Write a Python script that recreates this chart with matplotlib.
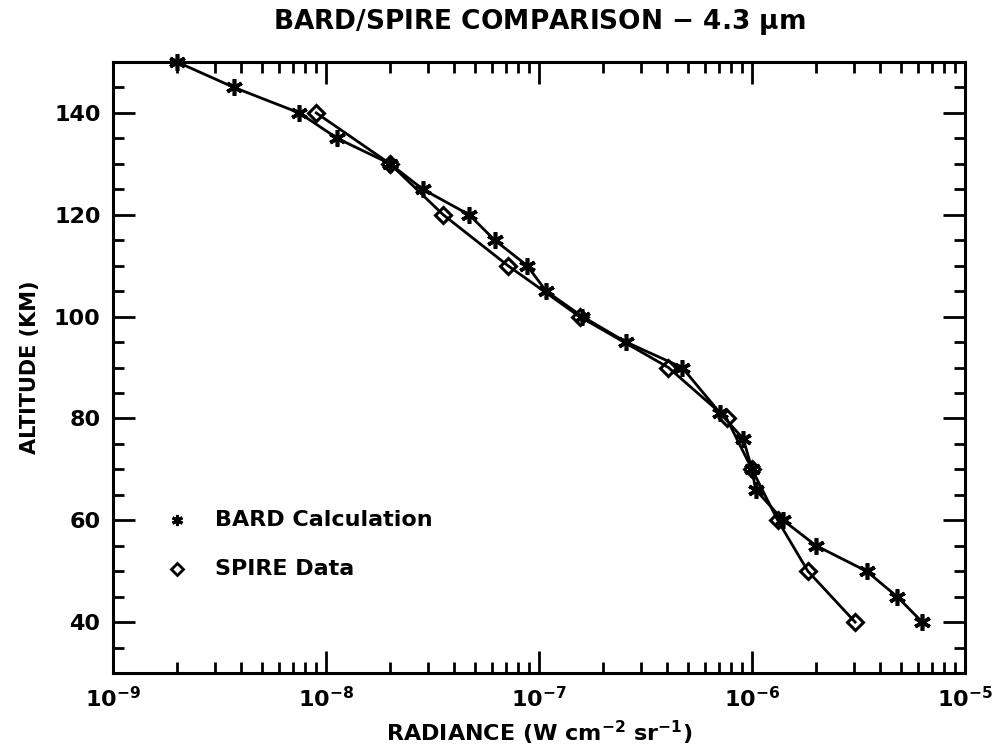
import matplotlib
matplotlib.use("Agg")
import matplotlib.pyplot as plt
from matplotlib.ticker import LogLocator, MultipleLocator, FuncFormatter

bard_alt = [150, 145, 140, 135, 130, 125, 120, 115, 110, 105, 100, 95, 90, 81, 76, 70, 66, 60, 55, 50, 45, 40]
bard_rad = [2.0e-9, 3.7e-9, 7.5e-9, 1.13e-8, 2.0e-8, 2.85e-8, 4.7e-8, 6.2e-8, 8.8e-8, 1.08e-7, 1.6e-7,
            2.56e-7, 4.7e-7, 7.1e-7, 9.1e-7, 1.0e-6, 1.04e-6, 1.4e-6, 2.0e-6, 3.45e-6, 4.8e-6, 6.3e-6]

spire_alt = [140, 130, 120, 110, 100, 90, 80, 70, 60, 50, 40]
spire_rad = [9.0e-9, 2.0e-8, 3.55e-8, 7.15e-8, 1.55e-7, 4.05e-7, 7.6e-7, 1.0e-6, 1.32e-6, 1.83e-6, 3.05e-6]

x_ticks = [1e-9, 1e-8, 1e-7, 1e-6, 1e-5]
x_ticklabels = [r'$\mathbf{10^{-9}}$', r'$\mathbf{10^{-8}}$', r'$\mathbf{10^{-7}}$', r'$\mathbf{10^{-6}}$', r'$\mathbf{10^{-5}}$']
y_ticks = [40, 60, 80, 100, 120, 140]

plt.rcParams['font.family'] = ['DejaVu Sans']
plt.rcParams['font.weight'] = 'bold'
plt.rcParams['mathtext.default'] = 'bf'

fig = plt.figure(figsize=(9.96, 7.52), dpi=100)
ax = fig.add_axes([113/996, 1-673/752, (965-113)/996, (673-62)/752])

star = (6, 2, 0)
ax.plot(bard_rad, bard_alt, color='black', lw=2.0, marker=star, ms=12, mew=2.6,
        clip_on=False, zorder=3)
ax.plot(spire_rad, spire_alt, color='black', lw=2.0, marker='D', ms=8, mew=2.2,
        mfc='none', clip_on=False, zorder=3)

ax.set_xscale('log')
ax.set_xlim(1e-9, 1e-5)
ax.set_ylim(30, 150)
ax.set_xticks(x_ticks)
ax.set_xticklabels(x_ticklabels)
ax.xaxis.set_minor_locator(LogLocator(base=10, subs=range(2, 10), numticks=20))
ax.xaxis.set_minor_formatter(FuncFormatter(lambda v, p: ''))
ax.set_yticks(y_ticks)
ax.yaxis.set_minor_locator(MultipleLocator(5))

ax.tick_params(which='both', direction='in', top=True, right=True, width=2.0, labelsize=16, pad=9)
ax.tick_params(which='major', length=16)
ax.tick_params(which='minor', length=8)
for lab in ax.get_yticklabels():
    lab.set_fontweight('bold')
for s in ax.spines.values():
    s.set_linewidth(2.2)

ax.set_title(r'BARD/SPIRE COMPARISON $-$ 4.3 $\mu$m', fontsize=19, fontweight='bold', pad=24)
ax.set_xlabel(r'RADIANCE (W cm$^{-2}$ sr$^{-1}$)', fontsize=16, fontweight='bold', labelpad=6)
ax.set_ylabel('ALTITUDE (KM)', fontsize=15, fontweight='bold', labelpad=10)

# legend drawn as text
ax.plot([2.0e-9], [60], marker=star, ms=8, mew=2.2, color='black', ls='none')
ax.text(3.0e-9, 60, 'BARD Calculation', fontsize=16, fontweight='bold', va='center')
ax.plot([2.0e-9], [50.5], marker='D', ms=6.5, mew=2.0, mfc='none', color='black', ls='none')
ax.text(3.0e-9, 50.5, 'SPIRE Data', fontsize=16, fontweight='bold', va='center')

fig.savefig('out.png', dpi=100)
